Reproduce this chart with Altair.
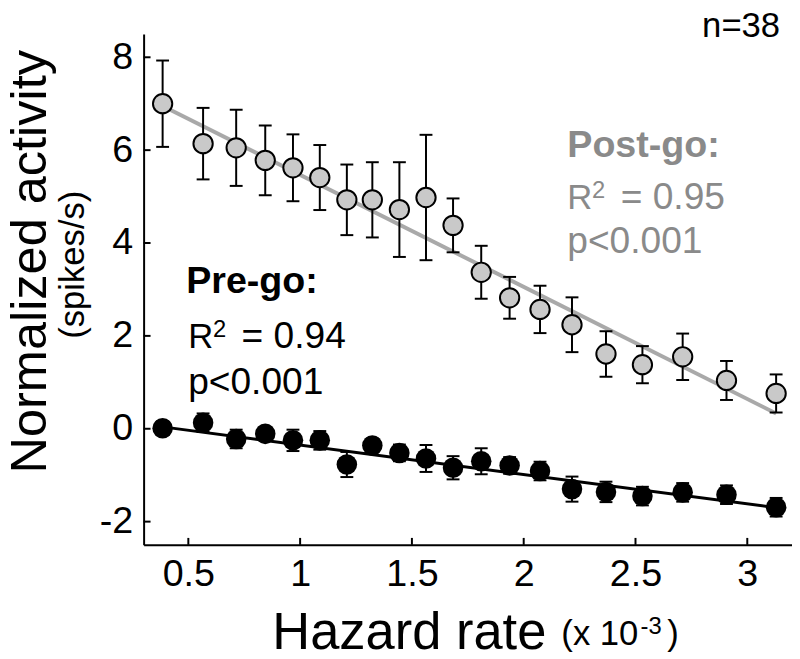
import altair as alt
import pandas as pd

# ---- data ----
hazard = [0.385, 0.566, 0.714, 0.844, 0.968, 1.088, 1.209, 1.323, 1.444, 1.563,
          1.684, 1.810, 1.937, 2.073, 2.216, 2.368, 2.531, 2.711, 2.907, 3.129]
post_mean = [7.00, 6.14, 6.05, 5.78, 5.62, 5.41, 4.93, 4.93, 4.72, 4.98,
             4.38, 3.37, 2.82, 2.57, 2.24, 1.61, 1.38, 1.55, 1.04, 0.76]
post_err = [0.93, 0.77, 0.82, 0.75, 0.72, 0.70, 0.76, 0.81, 1.02, 1.35,
            0.58, 0.57, 0.45, 0.51, 0.59, 0.49, 0.40, 0.50, 0.42, 0.41]
pre_mean = [0.01, 0.13, -0.22, -0.11, -0.25, -0.25, -0.77, -0.36, -0.52, -0.64,
            -0.84, -0.70, -0.79, -0.91, -1.30, -1.36, -1.45, -1.37, -1.42, -1.69]
pre_err = [0.15, 0.20, 0.20, 0.15, 0.23, 0.20, 0.27, 0.15, 0.18, 0.29,
           0.25, 0.28, 0.18, 0.20, 0.27, 0.22, 0.20, 0.20, 0.20, 0.20]
fit_x = [0.385, 3.129]
post_fit = [6.95, 0.33]
pre_fit = [0.04, -1.70]
x_ticks = [0.5, 1, 1.5, 2, 2.5, 3]
y_ticks = [-2, 0, 2, 4, 6, 8]

W, H = 655, 516
FONT = "Liberation Sans"
GRAY_TXT = "#8a8a8a"

post = pd.DataFrame({"x": hazard, "y": post_mean,
                     "lo": [m - e for m, e in zip(post_mean, post_err)],
                     "hi": [m + e for m, e in zip(post_mean, post_err)]})
pre = pd.DataFrame({"x": hazard, "y": pre_mean,
                    "lo": [m - e for m, e in zip(pre_mean, pre_err)],
                    "hi": [m + e for m, e in zip(pre_mean, pre_err)]})
post_fit_df = pd.DataFrame({"x": fit_x, "y": post_fit})
pre_fit_df = pd.DataFrame({"x": fit_x, "y": pre_fit})
xt_df = pd.DataFrame({"x": x_ticks})
yt_df = pd.DataFrame({"y": y_ticks})

xs = alt.Scale(domain=[0.3, 3.2], nice=False, zero=False)
ys = alt.Scale(domain=[-2.5, 8.5], nice=False, zero=False)

x_axis = alt.Axis(values=x_ticks, labelExpr="datum.value + ''", ticks=False, grid=False,
                  labelFont=FONT, labelFontSize=38, labelColor="black", labelPadding=11,
                  domainColor="black", domainWidth=2, title=None)
y_axis = alt.Axis(values=y_ticks, labelExpr="datum.value + ''", ticks=False, grid=False,
                  labelFont=FONT, labelFontSize=38, labelColor="black", labelPadding=11,
                  domainColor="black", domainWidth=2, title=None)

X = alt.X("x:Q", scale=xs, axis=x_axis)
Y = alt.Y("y:Q", scale=ys, axis=y_axis)
YLO = alt.Y("lo:Q", scale=ys, axis=y_axis)
YHI = alt.Y("hi:Q", scale=ys, axis=y_axis)


def series(df, fit_df, fill, line_color, line_w, size, stroke_w):
    bars = alt.Chart(df).mark_rule(color="black", strokeWidth=2).encode(x=X, y=YLO, y2="hi:Q")
    cap_lo = alt.Chart(df).mark_tick(orient="horizontal", size=13, thickness=2, color="black",
                                     opacity=1).encode(x=X, y=YLO)
    cap_hi = alt.Chart(df).mark_tick(orient="horizontal", size=13, thickness=2, color="black",
                                     opacity=1).encode(x=X, y=YHI)
    line = alt.Chart(fit_df).mark_line(color=line_color, strokeWidth=line_w).encode(x=X, y=Y)
    if stroke_w > 0:
        pts = alt.Chart(df).mark_circle(size=size, color=fill, opacity=1, stroke="black",
                                        strokeWidth=stroke_w).encode(x=X, y=Y)
    else:
        pts = alt.Chart(df).mark_circle(size=size, color=fill, opacity=1).encode(x=X, y=Y)
    return [line, bars, cap_lo, cap_hi, pts]


def txt(s, x, y, size, weight="normal", color="black", angle=0, align="left"):
    return alt.Chart(pd.DataFrame({"t": [s]})).mark_text(
        text=s, x=x, y=y, fontSize=size, fontWeight=weight, color=color, angle=angle,
        align=align, baseline="alphabetic", font=FONT)


xticks_layer = alt.Chart(xt_df).mark_rule(color="black", strokeWidth=2).encode(
    x=X, y=alt.value(H), y2=alt.value(H - 7))
yticks_layer = alt.Chart(yt_df).mark_rule(color="black", strokeWidth=2).encode(
    y=Y, x=alt.value(0), x2=alt.value(7))

layers = [xticks_layer, yticks_layer]
layers += series(post, post_fit_df, "#c9c9c9", "#a9a9a9", 4, 380, 2)
layers += series(pre, pre_fit_df, "black", "black", 3, 430, 0)

texts = [
    txt("n=38", 643, 3, 35, align="right"),
    txt("Post-go:", 428, 124, 38, weight="bold", color=GRAY_TXT),
    txt("R", 428, 177, 35, color=GRAY_TXT),
    txt("2", 453, 166, 24, color=GRAY_TXT),
    txt("= 0.95", 482, 177, 37.5, color=GRAY_TXT),
    txt("p<0.001", 428, 221, 37.5, color=GRAY_TXT),
    txt("Pre-go:", 43, 262, 38, weight="bold"),
    txt("R", 45, 317, 35),
    txt("2", 70, 306, 24),
    txt("= 0.94", 99, 317, 37.5),
    txt("p<0.001", 45, 364, 37.5),
    txt("Normalized activity", -99, 230, 51, angle=270, align="center"),
    txt("(spikes/s)", -60, 233, 35, angle=270, align="center"),
    txt("Hazard rate", 130, 621, 53),
    txt("(x 10", 422, 617, 35),
    txt("-3", 502, 606, 24),
    txt(")", 529, 617, 35),
]

chart = alt.layer(*layers, *texts).properties(
    width=W, height=H,
    background="white",
    autosize=alt.AutoSizeParams(type="none"),
    padding={"left": 137, "top": 23, "right": 0, "bottom": 112},
).configure_view(stroke=None, strokeWidth=0)

chart.save("out.html", embed_options={"renderer": "svg", "actions": False})
